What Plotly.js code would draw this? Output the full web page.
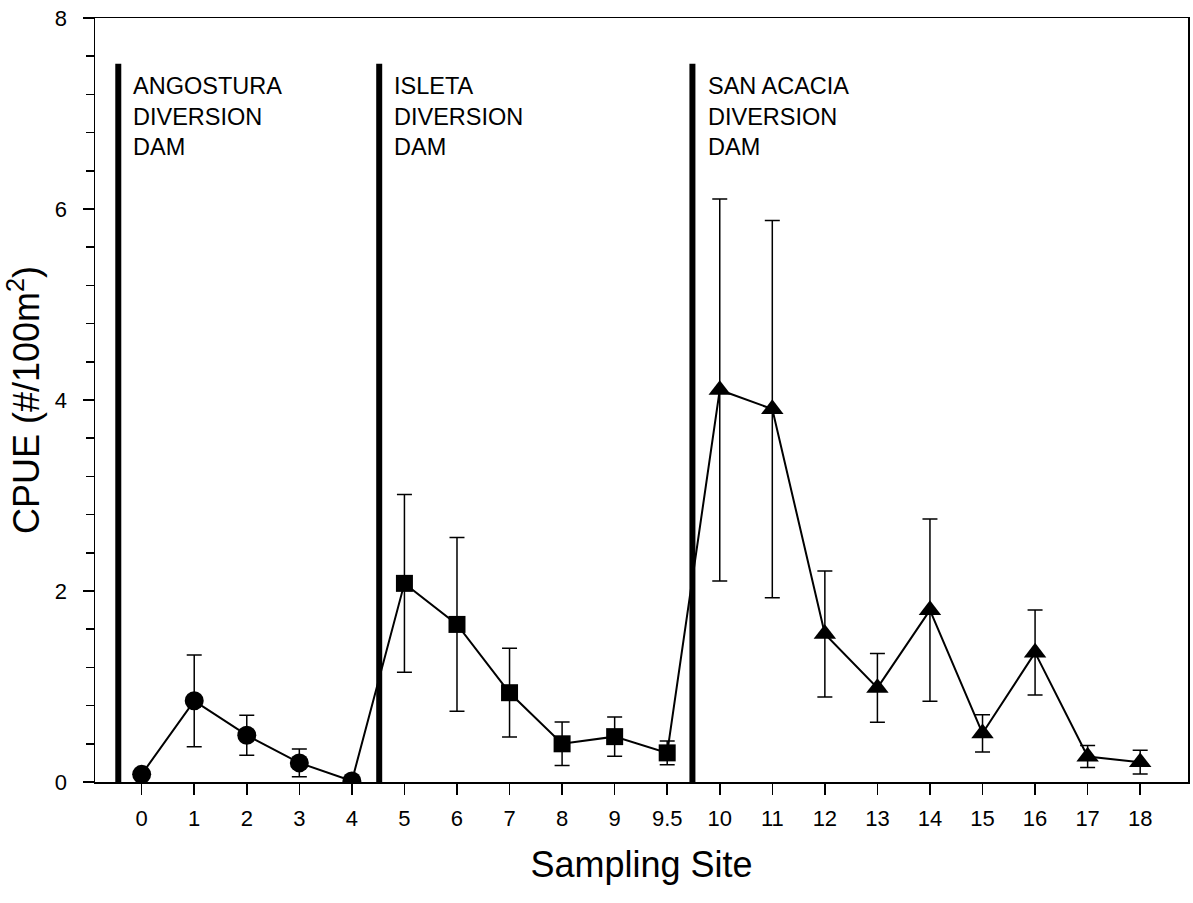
<!DOCTYPE html>
<html>
<head>
<meta charset="utf-8">
<script src="https://cdn.plot.ly/plotly-3.0.1.min.js"></script>
<style>html,body{margin:0;padding:0;background:#fff;}#chart{width:1193px;height:903px;}</style>
</head>
<body>
<div id="chart"></div>
<script>
// Tick labels (sampling sites, evenly spaced categories)
const siteLabels = ['0','1','2','3','4','5','6','7','8','9','9.5','10','11','12','13','14','15','16','17','18'];

// Reach below Angostura (circles)
const circleSites = ['0','1','2','3','4'];
const circleCPUE  = [0.08, 0.85, 0.49, 0.20, 0.01];
const circleErr   = [0.04, 0.48, 0.21, 0.145, 0.0];

// Reach below Isleta (squares)
const squareSites = ['5','6','7','8','9','9.5'];
const squareCPUE  = [2.08, 1.65, 0.935, 0.40, 0.475, 0.305];
const squareErr   = [0.93, 0.91, 0.465, 0.228, 0.205, 0.125];

// Reach below San Acacia (triangles)
const triSites = ['10','11','12','13','14','15','16','17','18'];
const triCPUE  = [4.105, 3.905, 1.55, 0.985, 1.80, 0.51, 1.355, 0.267, 0.208];
const triErr   = [2.0, 1.975, 0.66, 0.36, 0.955, 0.195, 0.445, 0.115, 0.125];

// Diversion dams (position in site-index units between categories)
const damNames = ['ANGOSTURA<br>DIVERSION<br>DAM', 'ISLETA<br>DIVERSION<br>DAM', 'SAN ACACIA<br>DIVERSION<br>DAM'];
const damPositions = [-0.445, 4.52, 10.48];
const damTop = 7.52;

const idx = s => siteLabels.indexOf(s);
const FONT = 'Arial, "Liberation Sans", Helvetica, sans-serif';

const allX = [...circleSites, ...squareSites, ...triSites].map(idx);
const allY = [...circleCPUE, ...squareCPUE, ...triCPUE];

function markerTrace(sites, vals, errs, symbol, size) {
  return {
    x: sites.map(idx), y: vals, type: 'scatter', mode: 'markers',
    marker: {symbol: symbol, size: size, color: '#000'},
    error_y: {type: 'data', array: errs, visible: true, color: '#000', thickness: 1.5, width: 7.5},
    showlegend: false, hoverinfo: 'x+y'
  };
}

const traces = [
  {x: allX, y: allY, type: 'scatter', mode: 'lines', line: {color: '#000', width: 2}, showlegend: false, hoverinfo: 'skip'},
  markerTrace(circleSites, circleCPUE, circleErr, 'circle', 19),
  markerTrace(squareSites, squareCPUE, squareErr, 'square', 17),
  markerTrace(triSites, triCPUE, triErr, 'triangle-up', 19.5)
];

const shapes = damPositions.map(p => ({
  type: 'line', xref: 'x', yref: 'y', x0: p, x1: p, y0: 0, y1: damTop,
  line: {color: '#000', width: 6}, layer: 'above'
}));

const annotations = damPositions.map((p, i) => ({
  xref: 'x', yref: 'y', x: p + 0.25, y: 7.45, xanchor: 'left', yanchor: 'top',
  text: damNames[i], showarrow: false, align: 'left',
  font: {family: FONT, size: 23.5, color: '#000'}
}));

const layout = {
  width: 1193, height: 903,
  margin: {l: 95, r: 5, t: 17.5, b: 121.3},
  paper_bgcolor: '#fff', plot_bgcolor: '#fff',
  font: {family: FONT, color: '#000'},
  showlegend: false,
  xaxis: {
    range: [-0.888, 19.91],
    tickmode: 'array',
    tickvals: siteLabels.map((s, i) => i),
    ticktext: siteLabels,
    ticks: 'outside', ticklen: 11, tickwidth: 1.5, tickcolor: '#000',
    ticklabelstandoff: 5,
    showline: true, linecolor: '#000', linewidth: 1.5, mirror: true,
    showgrid: false, zeroline: false,
    tickfont: {family: FONT, size: 22, color: '#000'},
    title: {text: 'Sampling Site', font: {family: FONT, size: 36, color: '#000'}, standoff: 22}
  },
  yaxis: {
    range: [0, 8],
    tickmode: 'linear', tick0: 0, dtick: 2,
    ticks: 'outside', ticklen: 11, tickwidth: 1.5, tickcolor: '#000',
    ticklabelstandoff: 11,
    minor: {dtick: 0.4, ticks: 'outside', ticklen: 8, tickwidth: 1.5, tickcolor: '#000', showgrid: false},
    showline: true, linecolor: '#000', linewidth: 1.5, mirror: true,
    showgrid: false, zeroline: false,
    tickfont: {family: FONT, size: 22, color: '#000'},
    title: {text: 'CPUE (#/100m<sup>2</sup>)', font: {family: FONT, size: 36, color: '#000'}, standoff: 4}
  },
  shapes: shapes,
  annotations: annotations
};

Plotly.newPlot('chart', traces, layout, {displayModeBar: false, staticPlot: true});
</script>
</body>
</html>
